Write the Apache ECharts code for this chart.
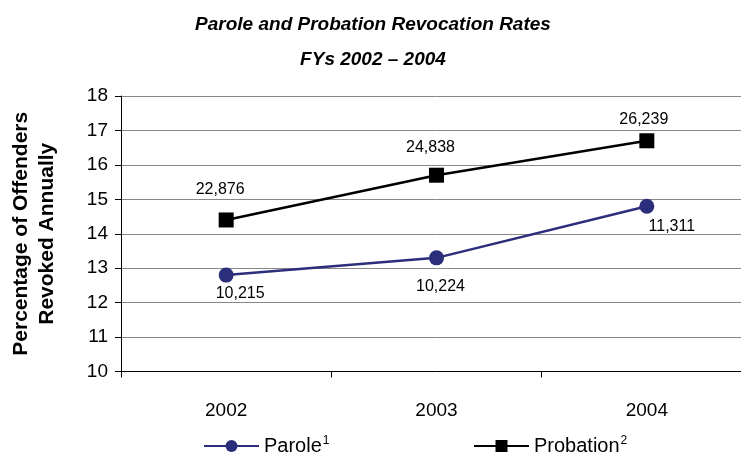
<!DOCTYPE html>
<html>
<head>
<meta charset="utf-8">
<script src="https://cdn.jsdelivr.net/npm/echarts@6/dist/echarts.min.js"></script>
<style>
html,body{margin:0;padding:0;background:#fff;overflow:hidden;width:741px;height:458px;}
#chart{width:752px;height:458px;}
</style>
</head>
<body>
<div id="chart"></div>
<script>
// ---- data ----
const years = ['2002', '2003', '2004'];
const paroleRates = [12.8, 13.3, 14.8];
const probationRates = [14.4, 15.7, 16.7];
const paroleCounts = ['10,215', '10,224', '11,311'];
const probationCounts = ['22,876', '24,838', '26,239'];
const seriesNames = ['Parole', 'Probation'];
const footnotes = ['1', '2'];
const yTicks = { min: 10, max: 18, interval: 1 };
const titleLines = ['Parole and Probation Revocation Rates', 'FYs 2002 – 2004'];
const yAxisTitle = ['Percentage of Offenders', 'Revoked Annually'];

// label layout nudges (styling only)
const paroleLabelOffsets = [[14, -2], [4, 8], [25, 0]];
const probationLabelOffsets = [[-6, -10], [-6, -7], [-3, -1]];

const FONT = 'Liberation Sans, Arial, sans-serif';
const PAROLE_COLOR = '#2b2e7a';
const PROB_COLOR = '#000000';

const chart = echarts.init(document.getElementById('chart'), null, { renderer: 'canvas' });

function legendFmt(name) {
  const i = seriesNames.indexOf(name);
  return '{n|' + name + '}{s|' + footnotes[i] + '}';
}
const legendRich = {
  n: { fontFamily: FONT, fontSize: 20, color: '#000' },
  s: { fontFamily: FONT, fontSize: 12, color: '#000', verticalAlign: 'top', padding: [0, 0, 10, 1] }
};

const option = {
  backgroundColor: '#fff',
  animation: false,
  title: {
    text: titleLines.join('\n'),
    left: 368,
    textAlign: 'center',
    top: 2,
    textStyle: { fontFamily: FONT, fontSize: 19, fontWeight: 'bold', fontStyle: 'italic', color: '#000', lineHeight: 35 }
  },
  legend: [
    {
      data: [seriesNames[0]], left: 198, top: 430, itemWidth: 55, itemHeight: 15,
      formatter: legendFmt, textStyle: { rich: legendRich }
    },
    {
      data: [seriesNames[1]], left: 468, top: 430, itemWidth: 55, itemHeight: 15,
      formatter: legendFmt, textStyle: { rich: legendRich }
    }
  ],
  grid: { left: 120, right: 0, top: 96, bottom: 86.5, containLabel: false },
  xAxis: {
    type: 'category', data: years, boundaryGap: true,
    axisLine: { show: true, lineStyle: { color: '#000', width: 1 } },
    axisTick: { show: true, length: 6, lineStyle: { color: '#000' } },
    axisLabel: { show: true, fontFamily: FONT, fontSize: 19, color: '#000', margin: 30 },
    splitLine: { show: false }
  },
  yAxis: {
    type: 'value', min: yTicks.min, max: yTicks.max, interval: yTicks.interval,
    name: yAxisTitle.join('\n'), nameLocation: 'middle', nameGap: 61, nameRotate: 90,
    nameTextStyle: { fontFamily: FONT, fontSize: 21, fontWeight: 'bold', color: '#000', lineHeight: 26 },
    axisLine: { show: true, lineStyle: { color: '#000', width: 1 } },
    axisTick: { show: true, length: 6, lineStyle: { color: '#000' } },
    axisLabel: { fontFamily: FONT, fontSize: 19, color: '#000', margin: 13 },
    splitLine: { show: true, lineStyle: { color: '#888', width: 1 } }
  },
  series: [
    {
      name: seriesNames[0], type: 'line',
      data: paroleRates.map((v, i) => ({ value: v, label: { offset: paroleLabelOffsets[i] } })),
      symbol: 'circle', symbolSize: 15,
      lineStyle: { color: PAROLE_COLOR, width: 2.5 },
      itemStyle: { color: PAROLE_COLOR },
      label: {
        show: true, position: 'bottom', distance: 5,
        fontFamily: FONT, fontSize: 16, color: '#000',
        formatter: p => paroleCounts[p.dataIndex]
      }
    },
    {
      name: seriesNames[1], type: 'line',
      data: probationRates.map((v, i) => ({ value: v, label: { offset: probationLabelOffsets[i] } })),
      symbol: 'rect', symbolSize: 15,
      lineStyle: { color: PROB_COLOR, width: 2.5 },
      itemStyle: { color: PROB_COLOR },
      label: {
        show: true, position: 'top', distance: 5,
        fontFamily: FONT, fontSize: 16, color: '#000',
        formatter: p => probationCounts[p.dataIndex]
      }
    }
  ]
};
chart.setOption(option);
</script>
</body>
</html>
